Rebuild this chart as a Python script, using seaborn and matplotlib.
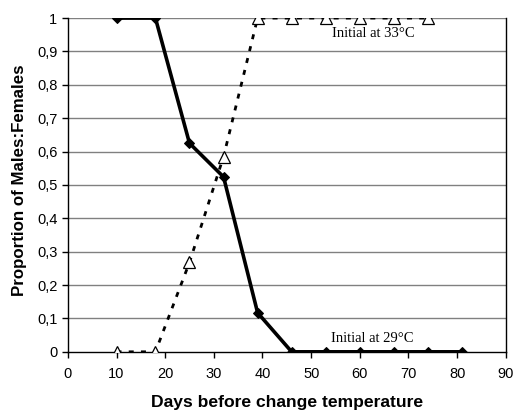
"""
Sex ratio vs days before temperature change.
"""
import matplotlib
matplotlib.use('Agg')
import matplotlib.pyplot as plt
import matplotlib.ticker as mticker
import seaborn as sns
import pandas as pd

# Data
days_29 = [10, 18, 25, 32, 39, 46, 53, 60, 67, 74, 81]
prop_29 = [1, 1, 0.625, 0.524, 0.117, 0, 0, 0, 0, 0, 0]
days_33 = [10, 18, 25, 32, 39, 46, 53, 60, 67, 74]
prop_33 = [0, 0, 0.268, 0.585, 1, 1, 1, 1, 1, 1]

df29 = pd.DataFrame({"days": days_29, "prop": prop_29})
df33 = pd.DataFrame({"days": days_33, "prop": prop_33})

sns.set_style("white")
plt.rcParams['font.family'] = ['Liberation Sans', 'DejaVu Sans']
plt.rcParams['text.color'] = 'black'
plt.rcParams['axes.labelcolor'] = 'black'

fig = plt.figure(figsize=(5.14, 4.11), dpi=100)
ax = fig.add_axes([0.132, 0.144, 0.852, 0.812])

# Horizontal grid
for v in [i / 10 for i in range(1, 11)]:
    ax.axhline(v, color='#808080', lw=1, zorder=0)

sns.lineplot(data=df29, x="days", y="prop", ax=ax, color='black', lw=2.6,
             marker='D', markersize=5.5, markeredgecolor='black', zorder=3)
sns.lineplot(data=df33, x="days", y="prop", ax=ax, color='black', lw=2,
             linestyle=(0, (1.8, 2.6)), marker='^', markersize=8,
             markerfacecolor='white', markeredgecolor='black',
             markeredgewidth=0.9, zorder=4)

ax.set_xlim(0, 90)
ax.set_ylim(0, 1)
ax.set_xticks(range(0, 91, 10))
ax.set_yticks([i / 10 for i in range(0, 11)])
ax.yaxis.set_major_formatter(mticker.FuncFormatter(
    lambda v, p: ('%g' % round(v, 1)).replace('.', ',')))
ax.tick_params(axis='both', direction='out', length=4, width=1, colors='black',
               labelsize=10.5, left=True, bottom=True)
ax.tick_params(axis='x', pad=7)

for side in ['left', 'bottom', 'right']:
    ax.spines[side].set_color('black')
    ax.spines[side].set_linewidth(1)
ax.spines['top'].set_visible(False)

ax.set_xlabel("Days before change temperature", fontsize=12.6,
              fontweight='bold', labelpad=10, color='black')
ax.set_ylabel("Proportion of Males:Females", fontsize=12.2,
              fontweight='bold', labelpad=8, color='black')
ax.yaxis.set_label_coords(-0.094, 0.515)

ax.text(62.7, 0.955, "Initial at 33°C", fontsize=10.5, family='Liberation Serif',
        ha='center', va='center', color='black')
ax.text(62.5, 0.04, "Initial at 29°C", fontsize=10.5, family='Liberation Serif',
        ha='center', va='center', color='black')

plt.savefig("out.png", dpi=100)
plt.close()
